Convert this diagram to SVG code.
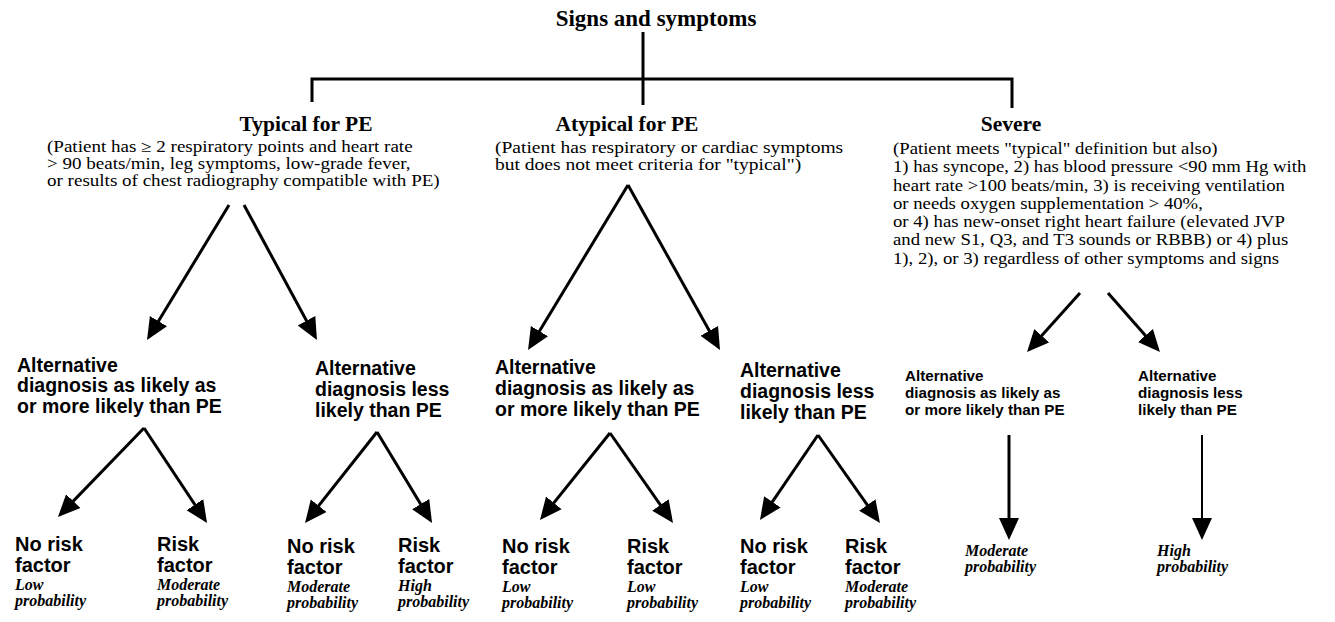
<svg xmlns="http://www.w3.org/2000/svg" width="1335" height="622" viewBox="0 0 1335 622">
<defs>
<style>
.h{font-family:"Liberation Serif",serif;font-weight:bold;font-size:21.5px;fill:#000}
.t{font-family:"Liberation Serif",serif;font-weight:bold;font-size:23px;fill:#000}
.sub{font-family:"Liberation Serif",serif;font-size:16px;fill:#000}
.alt{font-family:"Liberation Sans",sans-serif;font-weight:bold;font-size:19.5px;fill:#000}
.alts{font-family:"Liberation Sans",sans-serif;font-weight:bold;font-size:15.2px;fill:#000}
.rf{font-family:"Liberation Sans",sans-serif;font-weight:bold;font-size:20px;fill:#000}
.pr{font-family:"Liberation Serif",serif;font-weight:bold;font-style:italic;font-size:16px;fill:#000}
.ln{stroke:#000;stroke-width:3;fill:none}
.ar{stroke:#000;stroke-width:3;fill:none;marker-end:url(#ah)}
</style>
<marker id="ah" markerUnits="userSpaceOnUse" markerWidth="24" markerHeight="22" viewBox="0 0 24 22" refX="8" refY="11" orient="auto">
<path d="M0,1 L22,11 L0,21 z" fill="#000"/>
</marker>
</defs>
<rect width="1335" height="622" fill="#fff"/>

<g id="connectors">
<path class="ln" d="M643,32 V105"/>
<path class="ln" d="M312,102 V79 H1012 V108"/>
<line class="ar" x1="229" y1="205" x2="154.3" y2="328"/>
<line class="ar" x1="244" y1="205" x2="310.3" y2="327.7"/>
<line class="ar" x1="628" y1="185" x2="535.3" y2="338"/>
<line class="ar" x1="628" y1="185" x2="713.2" y2="337.8"/>
<line class="ar" x1="1080" y1="293" x2="1036.4" y2="341.6"/>
<line class="ar" x1="1108" y1="293" x2="1150.7" y2="341.5"/>
<line class="ar" x1="144" y1="428" x2="67.7" y2="506.9"/>
<line class="ar" x1="144" y1="428" x2="199.3" y2="511.3"/>
<line class="ar" x1="377" y1="432" x2="313.7" y2="512"/>
<line class="ar" x1="377" y1="432" x2="424.8" y2="511"/>
<line class="ar" x1="610" y1="433" x2="548.8" y2="509.1"/>
<line class="ar" x1="610" y1="433" x2="665" y2="511.5"/>
<line class="ar" x1="818" y1="435" x2="767.9" y2="508.4"/>
<line class="ar" x1="818" y1="435" x2="871.9" y2="511.5"/>
<line class="ar" x1="1009" y1="435" x2="1009" y2="526"/>
<line class="ar" x1="1202" y1="435" x2="1202" y2="526" style="stroke-width:2"/>
</g>

<g id="title"><text class="t" x="656" y="26" text-anchor="middle">Signs and symptoms</text></g>

<g id="typical">
<text class="h" x="306" y="131" text-anchor="middle">Typical for PE</text>
<g transform="translate(47 0) scale(1.19 1)">
<text class="sub" x="0" y="152">(Patient has ≥ 2 respiratory points and heart rate</text>
<text class="sub" x="0" y="169">&gt; 90 beats/min, leg symptoms, low-grade fever,</text>
<text class="sub" x="0" y="186">or results of chest radiography compatible with PE)</text>
</g>
</g>

<g id="atypical">
<text class="h" x="627" y="131" text-anchor="middle">Atypical for PE</text>
<g transform="translate(495 0) scale(1.22 1)">
<text class="sub" x="0" y="153">(Patient has respiratory or cardiac symptoms</text>
<text class="sub" x="0" y="170">but does not meet criteria for "typical")</text>
</g>
</g>

<g id="severe">
<text class="h" x="1011" y="131" text-anchor="middle">Severe</text>
<g transform="translate(893 0) scale(1.17 1)">
<text class="sub" x="0" y="154">(Patient meets "typical" definition but also)</text>
<text class="sub" x="0" y="172.3">1) has syncope, 2) has blood pressure &lt;90 mm Hg with</text>
<text class="sub" x="0" y="190.6">heart rate &gt;100 beats/min, 3) is receiving ventilation</text>
<text class="sub" x="0" y="208.9">or needs oxygen supplementation &gt; 40%,</text>
<text class="sub" x="0" y="227.2">or 4) has new-onset right heart failure (elevated JVP</text>
<text class="sub" x="0" y="245.5">and new S1, Q3, and T3 sounds or RBBB) or 4) plus</text>
<text class="sub" x="0" y="263.8">1), 2), or 3) regardless of other symptoms and signs</text>
</g>
</g>

<g id="typ-alt-likely">
<text class="alt" x="17" y="372">Alternative</text>
<text class="alt" x="17" y="392">diagnosis as likely as</text>
<text class="alt" x="17" y="413">or more likely than PE</text>
</g>
<g id="typ-alt-less">
<text class="alt" x="315" y="375">Alternative</text>
<text class="alt" x="315" y="396">diagnosis less</text>
<text class="alt" x="315" y="417">likely than PE</text>
</g>
<g id="atyp-alt-likely">
<text class="alt" x="495" y="374">Alternative</text>
<text class="alt" x="495" y="395">diagnosis as likely as</text>
<text class="alt" x="495" y="416">or more likely than PE</text>
</g>
<g id="atyp-alt-less">
<text class="alt" x="740" y="377">Alternative</text>
<text class="alt" x="740" y="398">diagnosis less</text>
<text class="alt" x="740" y="419">likely than PE</text>
</g>
<g id="sev-alt-likely">
<text class="alts" x="905" y="381">Alternative</text>
<text class="alts" x="905" y="398">diagnosis as likely as</text>
<text class="alts" x="905" y="415">or more likely than PE</text>
</g>
<g id="sev-alt-less">
<text class="alts" x="1138" y="381">Alternative</text>
<text class="alts" x="1138" y="398">diagnosis less</text>
<text class="alts" x="1138" y="415">likely than PE</text>
</g>

<g id="leaf1"><text class="rf" x="15" y="551">No risk</text><text class="rf" x="15" y="572">factor</text><text class="pr" x="15" y="590">Low</text><text class="pr" x="15" y="606">probability</text></g>
<g id="leaf2"><text class="rf" x="157" y="551">Risk</text><text class="rf" x="157" y="572">factor</text><text class="pr" x="157" y="590">Moderate</text><text class="pr" x="157" y="606">probability</text></g>
<g id="leaf3"><text class="rf" x="287" y="553">No risk</text><text class="rf" x="287" y="574">factor</text><text class="pr" x="287" y="592">Moderate</text><text class="pr" x="287" y="608">probability</text></g>
<g id="leaf4"><text class="rf" x="398" y="552">Risk</text><text class="rf" x="398" y="573">factor</text><text class="pr" x="398" y="591">High</text><text class="pr" x="398" y="607">probability</text></g>
<g id="leaf5"><text class="rf" x="502" y="553">No risk</text><text class="rf" x="502" y="574">factor</text><text class="pr" x="502" y="592">Low</text><text class="pr" x="502" y="608">probability</text></g>
<g id="leaf6"><text class="rf" x="627" y="553">Risk</text><text class="rf" x="627" y="574">factor</text><text class="pr" x="627" y="592">Low</text><text class="pr" x="627" y="608">probability</text></g>
<g id="leaf7"><text class="rf" x="740" y="553">No risk</text><text class="rf" x="740" y="574">factor</text><text class="pr" x="740" y="592">Low</text><text class="pr" x="740" y="608">probability</text></g>
<g id="leaf8"><text class="rf" x="845" y="553">Risk</text><text class="rf" x="845" y="574">factor</text><text class="pr" x="845" y="592">Moderate</text><text class="pr" x="845" y="608">probability</text></g>
<g id="leaf9"><text class="pr" x="965" y="556">Moderate</text><text class="pr" x="965" y="572">probability</text></g>
<g id="leaf10"><text class="pr" x="1157" y="556">High</text><text class="pr" x="1157" y="572">probability</text></g>
</svg>
